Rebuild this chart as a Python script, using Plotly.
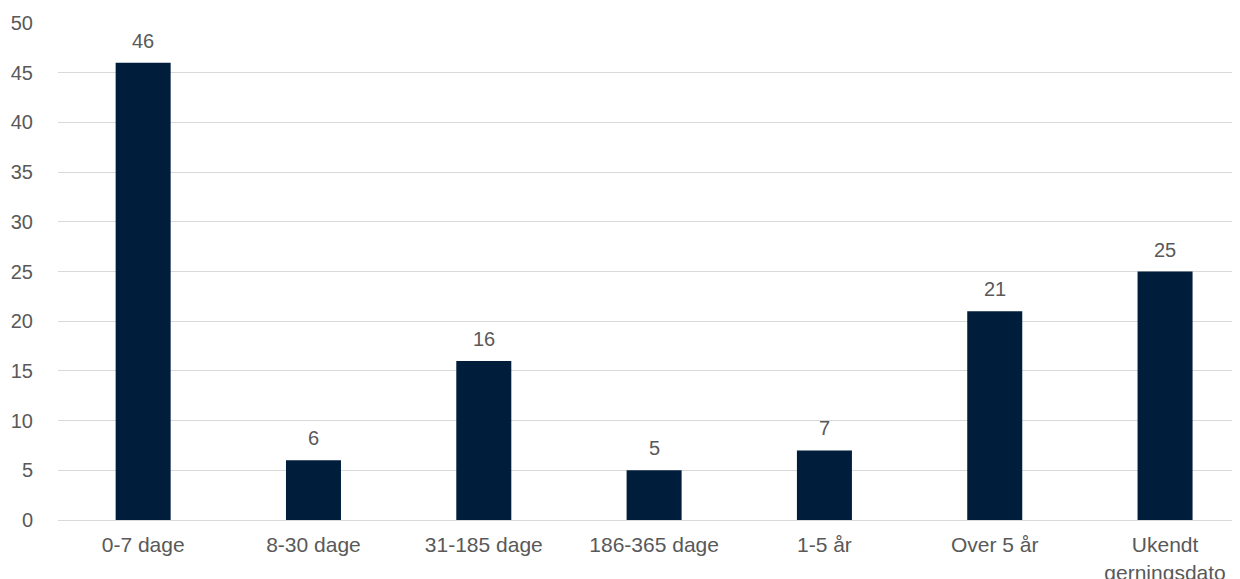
import plotly.graph_objects as go

categories = ["0-7 dage", "8-30 dage", "31-185 dage", "186-365 dage", "1-5 år", "Over 5 år", "Ukendt<br>gerningsdato"]
values = [46, 6, 16, 5, 7, 21, 25]
y_ticks = [0, 5, 10, 15, 20, 25, 30, 35, 40, 45, 50]

bar_color = "#001E3C"
text_color = "#595959"
font_family = "Liberation Sans, Arial, sans-serif"

fig = go.Figure()
fig.add_trace(go.Bar(
    x=categories, y=values, marker_color=bar_color,
    marker_line_width=0, width=0.323,
))
for c, v in zip(categories, values):
    fig.add_annotation(x=c, y=v, text=str(v), showarrow=False, yanchor="bottom",
                       yshift=9, font=dict(family=font_family, size=20, color=text_color))

fig.update_layout(
    width=1232, height=571,
    margin=dict(l=50, r=0, t=15, b=59),
    paper_bgcolor="white", plot_bgcolor="white",
    showlegend=False,
)
fig.update_xaxes(
    range=[-0.5, 6.44],
    showgrid=False, showline=False, zeroline=False, automargin=False,
    ticks="outside", ticklen=6, tickcolor="rgba(0,0,0,0)",
    tickfont=dict(family=font_family, size=21, color=text_color),
)
fig.update_yaxes(
    range=[0, 50], tickvals=y_ticks, showgrid=True, gridcolor="#D9D9D9", gridwidth=1.3,
    zeroline=True, zerolinecolor="#D9D9D9", zerolinewidth=1.3, showline=False,
    automargin=False,
    ticks="outside", ticklen=20, tickcolor="rgba(0,0,0,0)",
    tickfont=dict(family=font_family, size=20, color=text_color),
)
fig.write_html("out.html")
